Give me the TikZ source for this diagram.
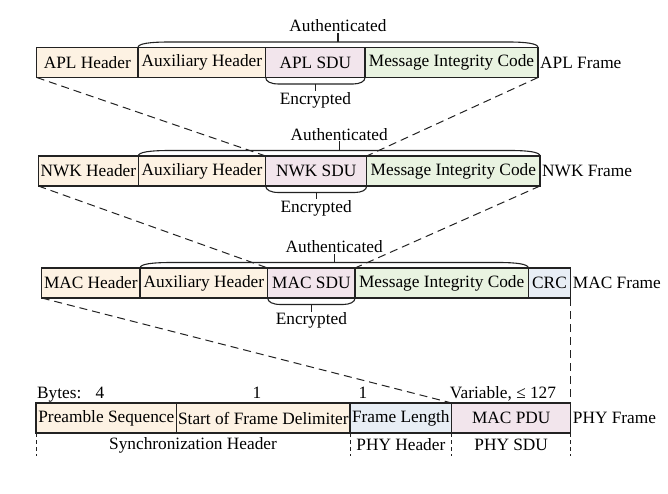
\documentclass[tikz,border=0pt]{standalone}
\usepackage{fontspec}
\setmainfont{Liberation Serif}
\usetikzlibrary{calc}
\definecolor{cream}{HTML}{FDF2E3}
\definecolor{pinkc}{HTML}{F2E5EC}
\definecolor{greenc}{HTML}{E9F3E1}
\definecolor{bluec}{HTML}{E8EEF5}
\definecolor{linec}{HTML}{222222}
\newcommand\authbrace[3]{%
  \draw[brace] (#1.north west) .. controls ($(#1.north west)+(0,-4)$) and ($(#1.north west)+(12,-5.5)$) .. ($(#1.north west)+(32,-5.5)$)
    -- ($(#2.north east)+(-30,-5.5)$) .. controls ($(#2.north east)+(-12,-5.5)$) and ($(#2.north east)+(0,-4)$) .. (#2.north east);
  \coordinate (#3) at ($(#1.north west)!0.5!(#2.north east)+(0,-5.5)$);
  \draw[brace] (#3) -- ++(0,-9) coordinate (#3t);
  \node[anchor=south, inner sep=1pt] (#3l) at (#3t) {Authenticated};}
\newcommand\encbrace[2]{%
  \draw[brace] (#1.south west) .. controls ($(#1.south west)+(0,4)$) and ($(#1.south west)+(5,6.5)$) .. ($(#1.south west)+(13,6.5)$)
    -- ($(#1.south east)+(-12,6.5)$) .. controls ($(#1.south east)+(-5,6.5)$) and ($(#1.south east)+(0,4)$) .. (#1.south east);
  \coordinate (#2) at ($(#1.south west)!0.5!(#1.south east)+(0,6.5)$);
  \draw[brace] (#2) -- ++(0,7) coordinate (#2t);
  \node[anchor=north, inner sep=1pt] (#2l) at (#2t) {Encrypted};}
\begin{document}
\begin{tikzpicture}[x=1pt,y=-1pt, font=\fontsize{17.3}{20}\selectfont,
  field/.style={draw=linec, line width=1.1pt, minimum height=30pt, inner sep=0pt, outer sep=0pt, anchor=north west},
  conn/.style={draw=linec, line width=1pt, dash pattern=on 8pt off 5pt},
  shortdash/.style={draw=linec, line width=1pt, dash pattern=on 4pt off 3pt},
  brace/.style={draw=linec, line width=1.1pt},
  frm/.style={anchor=west, inner sep=2pt},
  num/.style={anchor=base, inner sep=0pt}]
\useasboundingbox (0,0) rectangle (668,494);
% APL row
\node[field, fill=cream, minimum width=101.3pt] (aplh) at (36.7,47.5) {APL Header};
\node[field, fill=cream, minimum width=127.7pt] (aplaux) at (138,47.5) {Auxiliary Header};
\node[field, fill=pinkc, minimum width=99.3pt] (aplsdu) at (265.7,47.5) {APL SDU};
\node[field, fill=greenc, minimum width=173pt] (aplmic) at (365,47.5) {Message Integrity Code};
\node[frm] (aplf) at (aplmic.east) {APL Frame};
\authbrace{aplaux}{aplmic}{aplauth}
\encbrace{aplsdu}{aplenc}
% NWK row
\node[field, fill=cream, minimum width=100pt] (nwkh) at (38.3,156) {NWK Header};
\node[field, fill=cream, minimum width=127.4pt] (nwkaux) at (138.3,156) {Auxiliary Header};
\node[field, fill=pinkc, minimum width=101pt] (nwksdu) at (265.7,156) {NWK SDU};
\node[field, fill=greenc, minimum width=173.3pt] (nwkmic) at (366.7,156) {Message Integrity Code};
\node[frm] (nwkf) at (nwkmic.east) {NWK Frame};
\authbrace{nwkaux}{nwkmic}{nwkauth}
\encbrace{nwksdu}{nwkenc}
% MAC row
\node[field, fill=cream, minimum width=98.3pt] (mach) at (41.7,268) {MAC Header};
\node[field, fill=cream, minimum width=127.7pt] (macaux) at (140,268) {Auxiliary Header};
\node[field, fill=pinkc, minimum width=87.3pt] (macsdu) at (267.7,268) {MAC SDU};
\node[field, fill=greenc, minimum width=173.3pt] (macmic) at (355,268) {Message Integrity Code};
\node[field, fill=bluec, minimum width=42.4pt] (maccrc) at (528.3,268) {CRC};
\node[frm] (macf) at (maccrc.east) {MAC Frame};
\authbrace{macaux}{macmic}{macauth}
\encbrace{macsdu}{macenc}
% PHY row
\node[field, fill=cream, minimum width=140.7pt] (pre) at (36,403) {Preamble Sequence};
\node[field, fill=cream, minimum width=173.3pt] (sfd) at (176.7,403) {Start of Frame Delimiter};
\node[field, fill=bluec, minimum width=101.7pt] (fl) at (350,403) {Frame Length};
\node[field, fill=pinkc, minimum width=119pt] (pdu) at (451.7,403) {MAC PDU};
\node[frm] (phyf) at (pdu.east) {PHY Frame};
% byte counts
\node[num, anchor=base west] (bytes) at (37,398) {Bytes:};
\node[num] (b4) at (100,398) {4};
\node[num] (b1a) at (257,398) {1};
\node[num] (b1b) at (363,398) {1};
\node[num] (bvar) at (503,398) {Variable, ≤ 127};
% connectors between rows
\draw[conn] (aplh.south west) -- (nwksdu.north west);
\draw[conn] (aplmic.south east) -- (nwksdu.north east);
\draw[conn] (nwkh.south west) -- (macsdu.north west);
\draw[conn] (nwkmic.south east) -- (macsdu.north east);
\draw[conn] (mach.south west) -- (pdu.north west);
\draw[conn] (maccrc.south east) -- (pdu.north east);
% bottom grouping
\draw[shortdash] (pre.south west) -- ++(0,23) coordinate (g1);
\draw[shortdash] (fl.south west) -- ++(0,23) coordinate (g2);
\draw[shortdash] (pdu.south west) -- ++(0,23) coordinate (g3);
\draw[shortdash] (pdu.south east) -- ++(0,23) coordinate (g4);
\node (synch) at ($(pre.south west)!0.5!(fl.south west)+(0,12)$) {Synchronization Header};
\node (phyh) at ($(fl.south west)!0.5!(pdu.south west)+(0,12)$) {PHY Header};
\node (physdu) at ($(pdu.south west)!0.5!(pdu.south east)+(0,12)$) {PHY SDU};
\end{tikzpicture}
\end{document}
